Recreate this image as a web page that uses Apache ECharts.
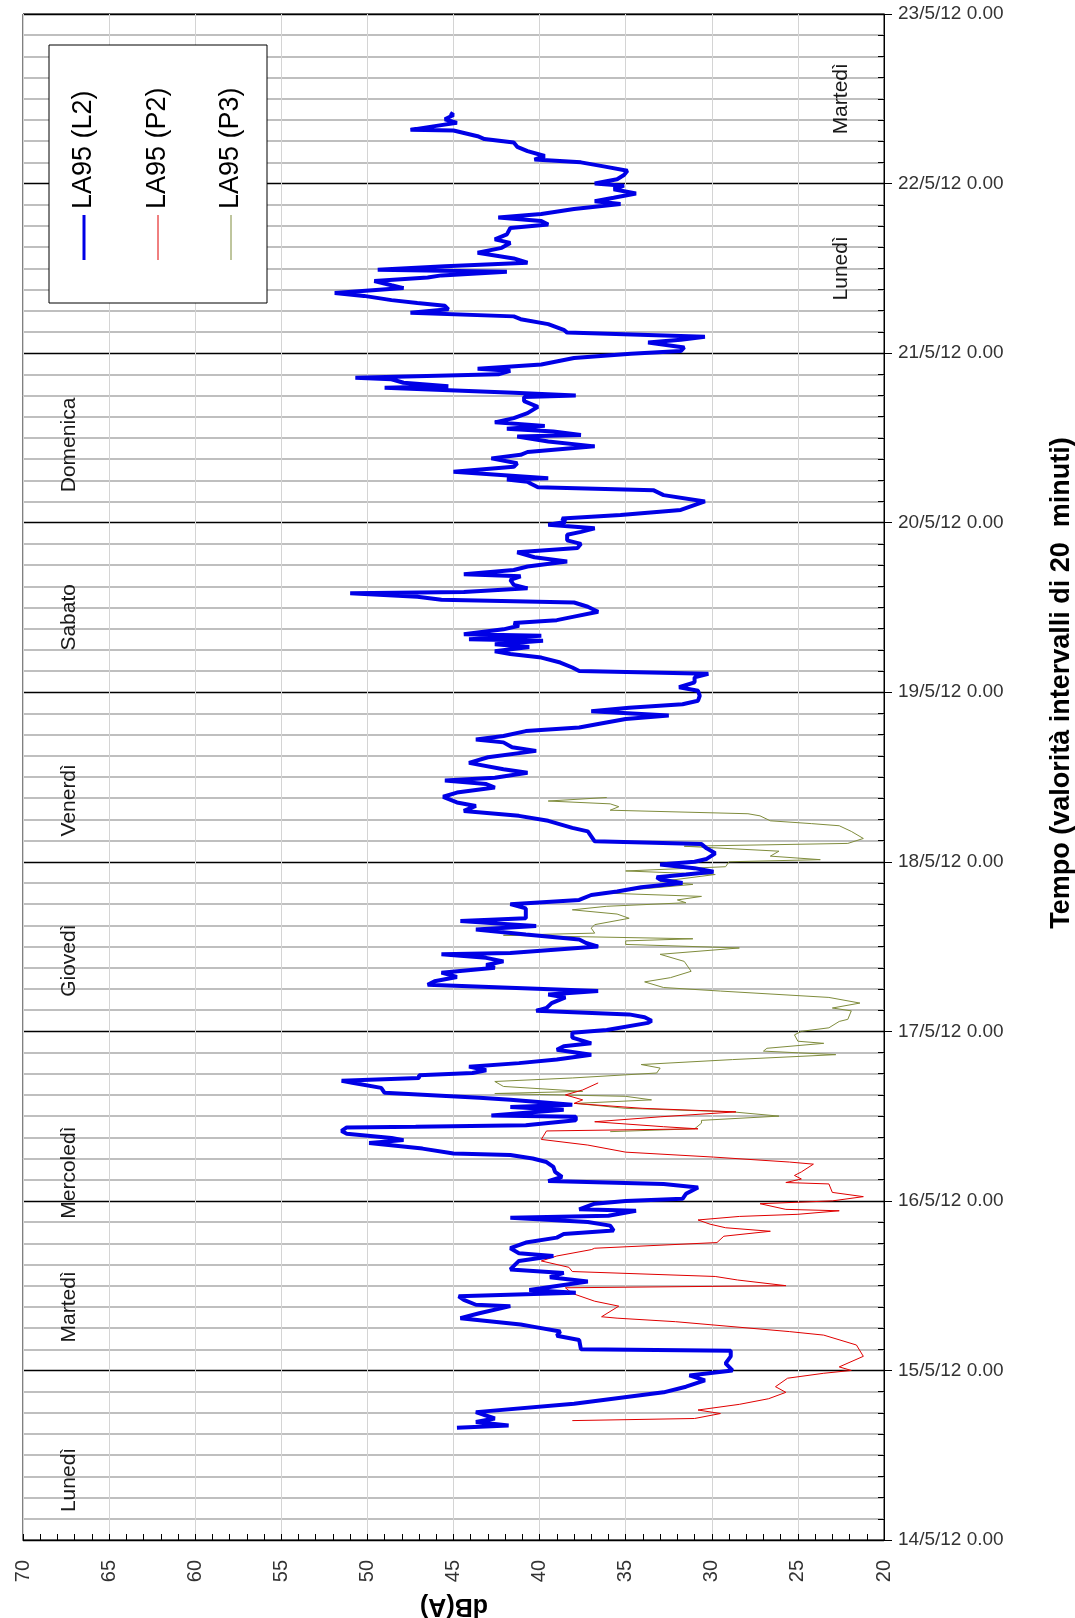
<!DOCTYPE html>
<html><head><meta charset="utf-8">
<script src="https://cdn.jsdelivr.net/npm/echarts@6/dist/echarts.min.js"></script>
<style>html,body{margin:0;padding:0;background:#fff}#c{width:1075px;height:1618px}</style>
</head><body><div id="c"></div>
<script>
const FONT = "'Liberation Sans', Arial, sans-serif";
const timeLabels = ['14/5/12 0.00','15/5/12 0.00','16/5/12 0.00','17/5/12 0.00','18/5/12 0.00','19/5/12 0.00','20/5/12 0.00','21/5/12 0.00','22/5/12 0.00','23/5/12 0.00'];
const seriesNames = ['LA95 (L2)','LA95 (P2)','LA95 (P3)'];
const dayNames = ['Lunedì','Martedì','Mercoledì','Giovedì','Venerdì','Sabato','Domenica','Lunedì','Martedì'];
const dayLabelHours = [8.5,33,52,82,104.7,130.6,155,180,204];
const dayLabelDb = [67.3,67.3,67.3,67.3,67.3,67.3,67.3,22.5,22.5];

// hours from 14/5/12 0.00
const l2Hours = [15.9,16.2,16.7,17.2,18.1,19.3,20.9,21.7,22.6,23.3,24.0,25.0,26.0,26.8,27.0,28.3,28.9,29.5,30.2,30.5,31.4,32.1,33.1,33.3,34.0,34.5,35.0,35.4,36.6,37.2,37.8,38.3,39.5,40.2,40.6,41.3,42.1,42.8,43.3,
43.8,44.5,45.0,45.6,45.9,46.6,46.8,47.6,48.0,48.3,49.0,49.9,50.4,50.8,51.4,52.1,52.8,53.5,54.0,54.5,54.7,55.4,56.2,56.6,56.9,57.5,57.9,58.4,58.5,58.7,59.4,59.9,60.1,60.9,61.3,61.6,62.3,62.6,63.3,64.0,64.7,65.0,65.4,65.8,66.1,66.5,67.0,67.5,68.0,68.7,69.4,69.9,70.3,71.1,71.8,72.2,73.2,
73.5,74.0,74.4,74.9,75.3,76.0,76.8,77.2,77.7,78.6,79.1,79.7,80.3,81.0,81.4,81.9,82.4,82.9,83.1,84.0,84.5,85.0,85.7,86.4,86.9,87.6,88.0,88.5,89.4,90.0,90.6,91.3,91.8,92.4,93.0,93.5,93.8,94.2,94.6,95.1,95.6,96.0,96.4,97.2,97.9,98.5,98.9,99.6,100.3,
100.8,101.8,102.5,103.2,103.9,104.4,105.2,105.8,106.5,107.0,107.5,107.9,108.6,109.1,110.0,110.8,111.7,112.2,112.9,113.3,113.8,114.5,115.0,115.5,116.2,116.7,117.3,117.8,118.3,118.8,119.5,120.2,120.7,121.4,122.1,122.6,123.0,123.5,124.2,124.9,125.4,125.8,126.4,126.8,127.3,127.5,128.0,128.2,128.9,129.4,
129.8,130.2,130.7,131.4,132.1,132.7,133.1,133.5,134.0,134.2,134.7,135.2,135.9,136.4,136.7,137.3,137.8,138.5,139.1,139.8,140.4,141.0,141.5,142.3,142.7,143.2,143.7,144.1,144.6,145.1,145.8,147.0,147.9,148.6,149.0,149.5,149.8,150.1,150.3,151.2,151.9,152.4,153.1,153.6,154.0,154.8,155.5,156.2,156.4,156.9,157.3,157.7,158.2,
158.8,159.5,160.4,161.2,161.8,162.0,162.4,163.1,163.3,163.8,164.3,164.5,165.0,165.5,165.8,166.4,167.3,167.9,168.3,168.8,169.5,169.9,170.3,170.9,171.3,172.1,172.8,173.2,173.7,174.2,174.7,175.1,175.5,176.1,176.5,177.2,177.6,178.2,178.7,179.0,179.5,179.8,180.3,180.8,181.4,182.2,182.9,183.6,184.1,184.8,185.7,186.2,186.7,187.2,
187.7,188.4,189.1,189.5,190.0,190.6,191.2,191.7,192.0,192.6,193.2,193.8,194.4,195.0,195.4,195.9,196.6,197.2,197.8,198.3,198.7,199.5,199.6,200.2,200.6,201.1,201.7,202.0];
const l2Values = [44.8,41.8,43.7,42.6,43.7,38.0,32.8,31.5,30.4,31.3,28.8,29.2,28.9,28.9,37.6,37.7,39.0,38.8,40.4,41.1,44.6,43.5,41.7,43.7,44.4,44.7,37.9,40.6,37.2,39.4,38.6,41.7,41.2,39.2,41.2,41.7,40.8,39.0,38.6,
35.7,35.9,37.2,41.7,36.0,34.4,37.7,36.8,35.0,31.7,31.5,30.8,32.8,39.5,38.7,39.1,39.2,39.6,40.4,41.7,45.0,46.8,49.9,47.9,48.6,51.2,51.5,51.2,47.2,40.8,37.9,37.9,42.8,38.6,41.7,38.1,41.7,43.5,49.0,49.2,50.8,51.5,47.0,47.0,43.9,43.1,44.1,41.2,39.0,37.0,39.0,38.6,37.0,38.1,38.1,36.1,33.7,
33.5,33.9,34.8,40.2,39.6,39.3,38.5,39.5,36.6,46.5,46.1,44.8,45.7,42.6,43.1,42.1,43.1,45.7,41.7,36.6,37.3,37.7,40.8,43.7,40.2,44.6,40.8,40.8,40.8,41.7,37.7,37.0,35.5,34.1,31.7,33.0,33.2,31.5,29.9,31.0,33.0,31.0,30.3,29.8,30.3,30.6,36.8,37.0,37.2,
38.1,39.5,41.2,44.4,43.7,44.8,45.6,44.8,42.6,43.1,45.5,42.6,40.7,42.1,44.1,43.0,40.2,41.6,42.1,43.7,42.1,40.8,37.7,36.6,35.0,32.5,37.0,34.8,31.7,30.8,30.7,30.8,31.9,31.0,31.0,30.2,37.7,38.1,38.8,39.9,41.7,42.6,40.6,42.6,39.8,44.1,39.9,44.4,42.1,41.2,
41.5,39.0,38.0,36.6,37.2,38.0,45.7,47.1,51.0,44.4,40.7,41.5,41.7,41.1,44.4,41.5,40.7,38.4,40.3,41.3,37.8,37.6,38.4,38.4,37.6,36.8,39.5,38.5,38.7,35.3,31.8,30.4,32.8,33.4,40.1,40.5,40.7,41.9,39.5,45.0,41.5,41.3,42.8,41.1,40.7,36.8,39.5,41.3,37.6,39.2,41.9,39.7,42.6,
41.5,40.7,40.1,40.9,40.9,37.9,41.5,49.0,45.3,47.9,48.6,50.7,42.4,41.7,43.6,39.9,38.0,34.7,31.8,31.6,33.7,31.8,30.4,38.4,38.6,39.5,41.1,41.5,47.5,45.3,45.5,47.1,48.6,50.2,51.9,47.9,48.6,49.6,46.5,45.7,41.9,49.4,45.5,40.7,41.5,43.6,42.2,41.7,42.6,41.9,41.7,39.5,39.9,42.4,
39.9,38.0,35.3,36.8,35.7,34.4,35.7,35.1,36.8,35.5,35.1,34.9,36.2,37.6,40.3,39.7,40.7,41.3,41.5,43.2,43.6,45.0,47.5,45.9,44.8,45.5,45.0,45.2];

const p2Hours = [16.9,17.2,17.9,18.4,19.2,20.0,20.9,21.7,22.9,23.6,24.0,24.5,26.0,27.6,29.0,29.5,30.9,31.4,31.6,33.1,33.8,34.9,35.7,36.0,36.8,37.3,38.0,38.6,39.5,40.2,41.1,41.3,42.1,43.0,43.7,44.2,44.7,45.3,45.8,46.1,46.6,46.8,47.6,48.0,48.6,49.2,50.4,50.6,51.1,51.6,52.1,53.2,53.5,54.2,54.9,55.9,56.7,57.9,58.2,58.5,59.2,59.9,60.6,61.1,61.8,62.3,63.0,63.7,64.7];
const p2Values = [38.1,31.0,29.5,30.8,28.4,26.7,25.7,26.3,25.6,23.5,21.9,22.6,21.2,21.6,23.5,25.5,32.1,35.5,36.4,35.4,36.8,38.1,38.5,25.7,28.5,29.8,38.1,38.3,39.9,39.0,37.0,36.8,29.7,29.3,26.6,29.2,30.1,30.8,28.4,25.0,22.6,25.7,27.2,23.0,21.2,23.0,23.2,25.7,24.8,25.2,24.8,24.1,25.5,29.9,35.0,37.2,39.9,39.6,30.8,32.8,36.8,33.0,28.6,34.0,38.0,37.5,38.5,37.5,36.6];

const p3Hours = [57.8,58.2,59.0,59.4,60.0,60.6,61.1,61.8,62.3,62.8,63.2,63.5,64.2,64.9,65.4,66.1,66.8,67.3,68.0,68.7,69.2,69.6,70.3,70.6,71.5,72.0,72.5,73.4,73.7,74.9,75.3,76.0,76.8,77.7,78.2,79.0,79.6,80.5,81.9,82.9,83.8,84.3,84.8,85.1,85.6,85.9,86.6,87.1,88.0,88.6,89.2,89.7,90.2,90.6,91.1,91.6,92.8,93.2,94.2,94.7,95.3,96.0,96.3,96.8,97.5,98.2,98.6,99.3,100.3,101.1,101.4,101.8,102.5,102.8,103.3,103.8,104.2,104.6,105.1];
const p3Values = [35.9,31.0,30.6,30.6,26.1,28.8,35.0,37.9,33.5,35.0,42.6,37.5,42.1,42.6,38.1,33.2,33.0,34.1,28.8,22.8,27.0,26.8,23.5,25.0,25.2,24.8,23.2,22.6,22.1,21.9,23.0,21.4,23.2,29.5,32.8,33.9,32.4,31.2,31.6,33.0,28.4,35.0,35.0,31.1,42.1,36.8,37.0,36.8,34.8,35.5,38.1,36.1,31.5,32.0,30.6,36.6,31.1,33.0,29.8,35.0,29.2,29.0,23.7,26.6,26.1,31.6,22.1,21.2,21.9,22.6,24.2,26.6,27.2,27.9,35.9,35.4,35.9,39.5,36.1];

const colors = ['#0000e6','#e00000','#7f8c3c'];
const widths = [4,1,1];

function pairs(hours, values){ return hours.map((h,i)=>[values[i], h]); }

const chart = echarts.init(document.getElementById('c'));
const lineSeries = [[l2Hours,l2Values],[p2Hours,p2Values],[p3Hours,p3Values]].map((d,i)=>({
  name: seriesNames[i], type:'line', xAxisIndex:0, yAxisIndex:0,
  data: pairs(d[0], d[1]), symbol:'none', showSymbol:false,
  lineStyle:{color:colors[i], width:widths[i]}, itemStyle:{color:colors[i]},
  z: 10 - i, silent:true, animation:false
}));

const legendX = [84,158,231];
const graphic = [
  {type:'rect', shape:{x:49,y:45,width:218,height:258}, style:{fill:'#fff', stroke:'#000', lineWidth:1}, z:100}
];
seriesNames.forEach((n,i)=>{
  graphic.push({type:'line', shape:{x1:legendX[i],y1:215,x2:legendX[i],y2:260}, style:{stroke:colors[i], lineWidth:i===0?3:1}, z:101});
  graphic.push({type:'text', x:legendX[i], y:209, rotation:Math.PI/2, style:{text:n, fontSize:27, fontFamily:FONT, fill:'#000', align:'left', verticalAlign:'middle'}, z:101});
});
graphic.push({type:'text', x:1062, y:683, rotation:Math.PI/2, style:{text:'Tempo (valorità intervalli di 20  minuti)', fontSize:27, fontWeight:'bold', fontFamily:FONT, fill:'#000', align:'center', verticalAlign:'middle'}, z:101});
graphic.push({type:'text', x:454, y:1606, rotation:Math.PI, style:{text:'dB(A)', fontSize:25, fontWeight:'bold', fontFamily:FONT, fill:'#000', align:'center', verticalAlign:'middle'}, z:101});

chart.setOption({
  animation:false,
  backgroundColor:'#fff',
  textStyle:{fontFamily:FONT},
  grid:{left:23, right:191, top:14, bottom:78, show:true, borderColor:'#000', borderWidth:1, outerBoundsMode:'none', containLabel:false},
  xAxis:{
    type:'value', min:20, max:70, interval:5, inverse:true,
    axisLine:{show:true, onZero:false, lineStyle:{color:'#000', width:1}},
    axisTick:{show:true, inside:true, length:6, lineStyle:{color:'#000'}},
    minorTick:{show:true, splitNumber:5, length:6, lineStyle:{color:'#000'}},
    axisLabel:{rotate:90, margin:20, fontSize:20, color:'#333', fontFamily:FONT},
    splitLine:{show:true, lineStyle:{color:'#d4d4d4', width:1}}
  },
  yAxis:[{
    type:'value', position:'right', min:0, max:216, interval:24,
    axisLine:{show:true, onZero:false, lineStyle:{color:'#000', width:1}},
    axisTick:{show:true, inside:false, length:8, lineStyle:{color:'#000'}},
    axisLabel:{margin:14, fontSize:19, color:'#333', fontFamily:FONT, formatter:(v)=>timeLabels[Math.round(v/24)]},
    splitLine:{show:true, lineStyle:{color:'#000', width:1.3}},
    minorTick:{show:false, splitNumber:8},
    minorSplitLine:{show:true, lineStyle:{color:'#ababab', width:1.5}}
  },{
    type:'value', position:'right', min:0, max:216, interval:24,
    axisLine:{show:false}, axisLabel:{show:false}, splitLine:{show:false},
    axisTick:{show:false, inside:true},
    minorTick:{show:true, splitNumber:8, length:6, lineStyle:{color:'#000'}}
  }],
  series: lineSeries.concat([{
    type:'scatter', xAxisIndex:0, yAxisIndex:0, symbolSize:2, silent:true,
    itemStyle:{color:'rgba(255,255,255,0)'},
    data: dayNames.map((n,i)=>({name:n, value:[dayLabelDb[i], dayLabelHours[i]]})),
    label:{show:true, position:'inside', rotate:90, formatter:(p)=>p.name, fontSize:21, color:'#1a1a1a', fontFamily:FONT, opacity:1},
    labelLayout:{hideOverlap:false},
    z:20
  }]),
  graphic: graphic
});
</script></body></html>
